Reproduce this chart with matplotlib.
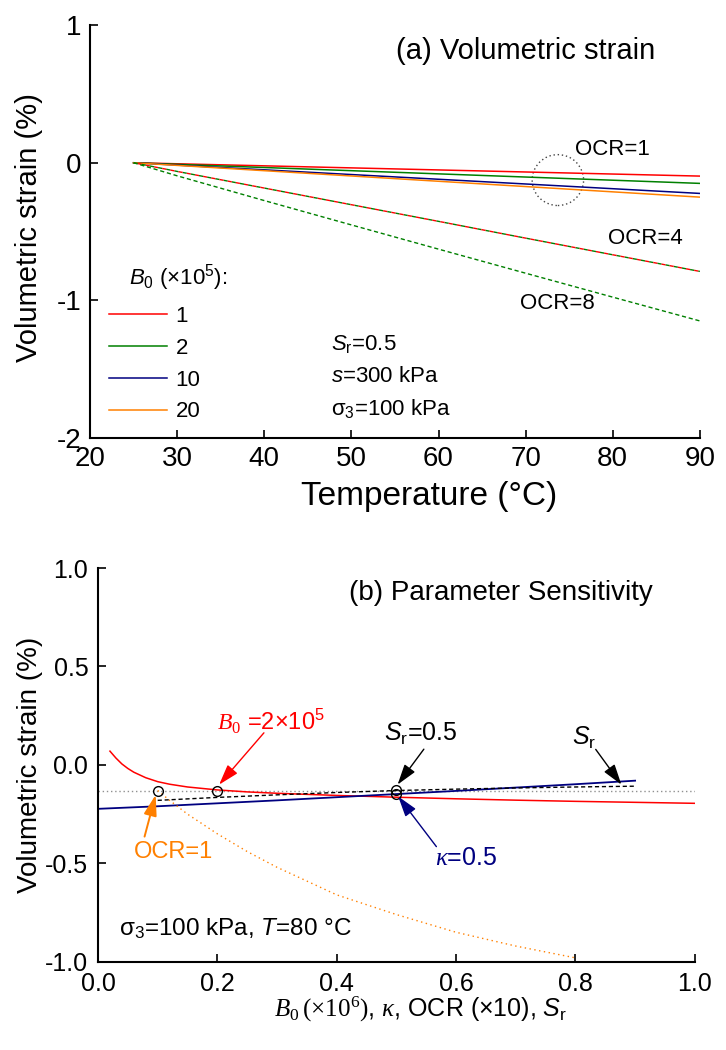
import matplotlib
matplotlib.use('Agg')
import matplotlib.pyplot as plt
from matplotlib.patches import Ellipse
from matplotlib.ticker import FormatStrFormatter, MultipleLocator

plt.rcParams['font.family'] = ['Liberation Sans', 'DejaVu Sans']
plt.rcParams['mathtext.fontset'] = 'custom'
plt.rcParams['mathtext.rm'] = 'Liberation Sans'
plt.rcParams['mathtext.it'] = 'Liberation Sans:italic'
plt.rcParams['mathtext.sf'] = 'Liberation Serif:italic'
plt.rcParams['mathtext.tt'] = 'Liberation Serif'
plt.rcParams['axes.unicode_minus'] = False

# ---- dados (a): deformacao volumetrica x temperatura ----
temp_ocr1 = [25, 90]
eps_b0_1 = [0.0, -0.097]
eps_b0_2 = [0.0, -0.15]
eps_b0_10 = [0.0, -0.223]
eps_b0_20 = [0.0, -0.25]

temp_ocr = [25, 30, 40, 50, 60, 70, 80, 90]
eps_ocr4 = [0.0, -0.063, -0.184, -0.305, -0.426, -0.548, -0.669, -0.79]
eps_ocr8 = [0.0, -0.095, -0.275, -0.452, -0.628, -0.803, -0.977, -1.15]

b0_labels = ['1', '2', '10', '20']
b0_colors = ['#ff0000', '#008000', '#000080', '#ff8000']

# ---- dados (b): sensibilidade dos parametros ----
x_b0 = [0.02, 0.03, 0.04, 0.05, 0.06, 0.08, 0.1, 0.12, 0.15, 0.2, 0.25, 0.3,
        0.4, 0.5, 0.6, 0.7, 0.8, 0.9, 1.0]
eps_b0 = [0.07, 0.035, 0.005, -0.018, -0.037, -0.065, -0.085, -0.098, -0.112,
          -0.127, -0.137, -0.144, -0.155, -0.164, -0.172, -0.179, -0.185,
          -0.19, -0.195]

x_kappa = [0.0, 0.1, 0.2, 0.3, 0.4, 0.5, 0.6, 0.7, 0.8, 0.9]
eps_kappa = [-0.223, -0.21, -0.195, -0.18, -0.164, -0.148, -0.132, -0.115,
             -0.098, -0.08]

x_sr = [0.1, 0.2, 0.3, 0.4, 0.5, 0.6, 0.7, 0.8, 0.9]
eps_sr = [-0.18, -0.165, -0.152, -0.14, -0.13, -0.123, -0.117, -0.112, -0.108]

x_ocr = [0.1, 0.12, 0.15, 0.2, 0.25, 0.3, 0.4, 0.5, 0.6, 0.7, 0.8]
eps_ocr = [-0.13, -0.18, -0.25, -0.35, -0.44, -0.52, -0.66, -0.76, -0.85,
           -0.92, -0.98]

x_ref = [0.0, 1.0]
eps_ref = [-0.13, -0.13]

x_circ = [0.1, 0.2, 0.5, 0.5]
eps_circ = [-0.13, -0.13, -0.125, -0.148]

fig = plt.figure(figsize=(7.26, 10.5), dpi=100)
ax1 = fig.add_axes([0.124, 0.583, 0.840, 0.393])
ax2 = fig.add_axes([0.135, 0.084, 0.822, 0.375])

for ax in (ax1, ax2):
    for lado in ['top', 'right']:
        ax.spines[lado].set_visible(False)
    for lado in ['left', 'bottom']:
        ax.spines[lado].set_linewidth(1.5)
    ax.tick_params(direction='in', length=6, width=1.2, labelsize=18, pad=7)
ax1.tick_params(labelsize=20, pad=6)

# ---- painel (a) ----
linhas = []
for eps, cor, lab in zip([eps_b0_1, eps_b0_2, eps_b0_10, eps_b0_20], b0_colors, b0_labels):
    l, = ax1.plot(temp_ocr1, eps, color=cor, lw=1.1, label=lab)
    linhas.append(l)
ax1.plot(temp_ocr, eps_ocr4, color='#008000', lw=1.0, ls=(0, (3, 3)))
ax1.plot(temp_ocr, eps_ocr4, color='#ff0000', lw=1.0, ls=(3, (3, 3)))
ax1.plot(temp_ocr, eps_ocr8, color='#008000', lw=1.0, ls=(0, (3, 2)))

ax1.add_patch(Ellipse((73.7, -0.126), 5.9, 0.37, fill=False, ls=(0, (1, 2)),
                      lw=1.0, ec='#444444'))

ax1.set_xlim(20, 90)
ax1.set_ylim(-2, 1)
ax1.xaxis.set_major_locator(MultipleLocator(10))
ax1.yaxis.set_major_locator(MultipleLocator(1))
ax1.set_xlabel('Temperature (°C)', fontsize=24)
ax1.xaxis.set_label_coords(0.556, -0.105)
ax1.set_ylabel('Volumetric strain (%)', fontsize=21)
ax1.yaxis.set_label_coords(-0.077, 0.51)

ax1.text(70, 0.81, '(a) Volumetric strain', fontsize=21, ha='center', va='center')
ax1.text(80, 0.095, 'OCR=1', fontsize=16, ha='center', va='center')
ax1.text(83.8, -0.553, 'OCR=4', fontsize=16, ha='center', va='center')
ax1.text(73.6, -1.025, 'OCR=8', fontsize=16, ha='center', va='center')

ax1.text(24.5, -0.836, r'$\mathit{B}_{0}$ (×10$^{5}$):', fontsize=16, ha='left', va='center')
ax1.legend(handles=linhas, loc='upper left', bbox_to_anchor=(0.031, 0.32),
           frameon=False, fontsize=16, handlelength=2.6, handletextpad=0.4,
           labelspacing=0.49, borderpad=0, borderaxespad=0)

ax1.text(47.7, -1.324, r'$\mathit{S}_{\mathrm{r}}$=0.5', fontsize=16, ha='left', va='center')
ax1.text(47.7, -1.554, r'$\mathit{s}$=300 kPa', fontsize=16, ha='left', va='center')
ax1.text(47.7, -1.789, r'σ$_{3}$=100 kPa', fontsize=16, ha='left', va='center')

# ---- painel (b) ----
ax2.plot(x_ref, eps_ref, color='#909090', lw=1.0, ls=(0, (1, 2)))
ax2.plot(x_b0, eps_b0, color='#ff0000', lw=1.1)
ax2.plot(x_kappa, eps_kappa, color='#000080', lw=1.3)
ax2.plot(x_sr, eps_sr, color='black', lw=1.0, ls=(0, (3, 2)))
ax2.plot(x_ocr, eps_ocr, color='#ff8000', lw=1.0, ls=(0, (1, 2.5)))
ax2.plot(x_circ, eps_circ, 'o', mfc='none', mec='black', ms=7, mew=1.0)

ax2.set_xlim(0, 1)
ax2.set_ylim(-1, 1)
ax2.xaxis.set_major_locator(MultipleLocator(0.2))
ax2.yaxis.set_major_locator(MultipleLocator(0.5))
ax2.xaxis.set_major_formatter(FormatStrFormatter('%.1f'))
ax2.yaxis.set_major_formatter(FormatStrFormatter('%.1f'))
ax2.set_ylabel('Volumetric strain (%)', fontsize=20)
ax2.yaxis.set_label_coords(-0.092, 0.5)
ax2.set_xlabel(r'$\mathsf{B}_{\mathtt{0}}\,\mathtt{(\times10^{6})}$, $\mathsf{\kappa}$, OCR (×10), $\mathit{S}_{\mathrm{r}}$',
               fontsize=18)
ax2.xaxis.set_label_coords(0.54, -0.085)

ax2.text(0.675, 0.873, '(b) Parameter Sensitivity', fontsize=20, ha='center', va='center')
ax2.text(0.036, -0.83, r'σ$_{3}$=100 kPa, $\mathit{T}$=80 °C', fontsize=17.5, ha='left', va='center')

# rotulos e setas (inicio da seta -> ponta)
rotulos = [
    (r'$\mathsf{B}_{\mathtt{0}}$ =2×10$^{5}$', (0.289, 0.22), 17, '#ff0000', (0.278, 0.163), (0.203, -0.10)),
    (r'$\mathit{S}_{\mathrm{r}}$=0.5', (0.54, 0.158), 18, 'black', (0.546, 0.08), (0.502, -0.10)),
    (r'$\mathit{S}_{\mathrm{r}}$', (0.815, 0.138), 18, 'black', (0.834, 0.079), (0.877, -0.10)),
    ('OCR=1', (0.127, -0.44), 17, '#ff8000', (0.078, -0.364), (0.0966, -0.152)),
    (r'$\mathsf{\kappa}$=0.5', (0.617, -0.472), 18, '#000080', (0.567, -0.415), (0.503, -0.16)),
]
for txt, pos, fs, cor, ini, fim in rotulos:
    ax2.text(pos[0], pos[1], txt, fontsize=fs, color=cor, ha='center', va='center')
    lw = 1.4 if cor == '#ff8000' else 1.0
    ax2.annotate('', xy=fim, xytext=ini,
                 arrowprops=dict(arrowstyle='-|>,head_length=0.7,head_width=0.22',
                                 color=cor, lw=lw, shrinkA=0, shrinkB=0,
                                 mutation_scale=18))

fig.savefig('out.png', dpi=100)
